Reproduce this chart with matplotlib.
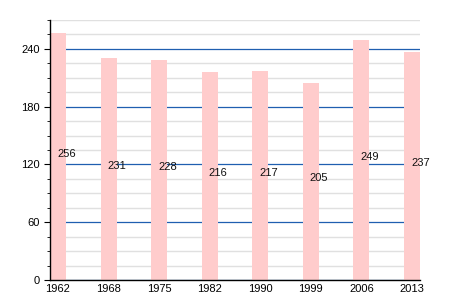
import matplotlib
matplotlib.use("Agg")
import matplotlib.pyplot as plt
import numpy as np

years = ["1962", "1968", "1975", "1982", "1990", "1999", "2006", "2013"]
population = [256, 231, 228, 216, 217, 205, 249, 237]

plt.rcParams['font.family'] = ['Liberation Sans', 'DejaVu Sans']

fig = plt.figure(figsize=(4.5, 3), dpi=100)
ax = fig.add_axes([50/450, 20/300, 370/450, 260/300])
ax.set_axisbelow(True)

x = np.arange(len(years))
w = 0.317
ax.bar(x, population, width=w, color='#ffcccc', zorder=2)
for xi, v in zip(x, population):
    ax.text(xi - 0.02, v / 2, str(v), ha='left', va='baseline', fontsize=8, color='#111111', zorder=3)

ax.set_xlim(-w / 2, len(years) - 1 + w / 2)
ax.set_ylim(0, 270)
ax.set_xticks(x)
ax.set_xticklabels(years)
ax.set_yticks([0, 60, 120, 180, 240])
ax.set_yticks(np.arange(0, 271, 15), minor=True)
ax.grid(axis='y', which='minor', color='#e0e0e0', linewidth=1)
ax.grid(axis='y', which='major', color='#1f5fb0', linewidth=0.9)

for s in ['top', 'right']:
    ax.spines[s].set_visible(False)
ax.spines['left'].set_linewidth(1)
ax.spines['bottom'].set_linewidth(1)
ax.tick_params(axis='y', which='major', length=4, labelsize=8, direction='out')
ax.tick_params(axis='y', which='minor', length=2.5, direction='out')
ax.tick_params(axis='x', length=0, labelsize=8, pad=3)

fig.savefig("out.png", dpi=100)
